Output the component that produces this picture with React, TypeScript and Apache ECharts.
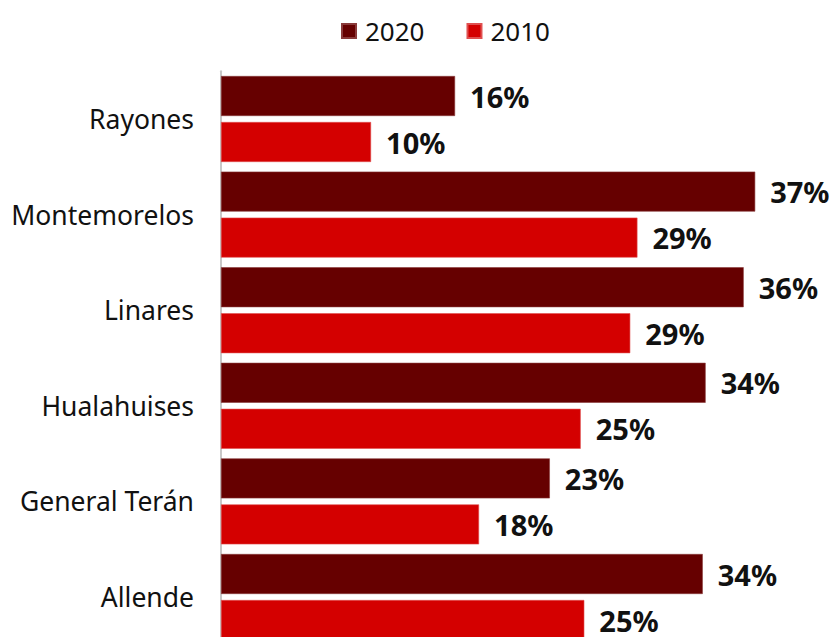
import React, { useEffect, useRef } from "react";
import * as echarts from "echarts";

const categories = ["Rayones", "Montemorelos", "Linares", "Hualahuises", "General Terán", "Allende"];
const values2020 = [16.3, 37.2, 36.4, 33.75, 22.9, 33.55];
const values2010 = [10.45, 29.0, 28.5, 25.05, 17.97, 25.3];
const seriesNames = ["2020", "2010"];

const FONT = "'Noto Sans', 'Open Sans', sans-serif";

export default function App() {
  const ref = useRef<HTMLDivElement>(null);
  useEffect(() => {
    if (!ref.current) return;
    const chart = echarts.init(ref.current, null, { renderer: "svg" });
    const label = {
      show: true,
      position: "right",
      distance: 15,
      formatter: (p: any) => Math.round(p.value) + "%",
      fontFamily: FONT,
      fontWeight: "bold",
      fontSize: 29,
      color: "#111",
    };
    chart.setOption({
      animation: false,
      legend: {
        left: 336,
        top: 13,
        itemWidth: 14,
        itemHeight: 14,
        itemGap: 42,
        icon: "rect",
        textStyle: { fontFamily: FONT, fontSize: 26, color: "#111", padding: [0, 0, 0, 4] },
        data: seriesNames,
      },
      grid: { left: 221, right: 37.6, top: 71.2, bottom: 55.2, containLabel: false },
      xAxis: {
        type: "value",
        min: 0,
        max: 40,
        show: false,
      },
      yAxis: {
        type: "category",
        inverse: true,
        data: categories,
        axisLine: { show: true, lineStyle: { color: "#c8c8c8", width: 2 } },
        axisTick: { show: false },
        axisLabel: { fontFamily: FONT, fontSize: 26.5, color: "#111", margin: 27 },
      },
      series: [
        {
          name: seriesNames[0],
          type: "bar",
          data: values2020,
          barWidth: 40,
          barGap: "15%",
          itemStyle: { color: "#660000", borderColor: "#8a3a3a", borderWidth: 0.6 },
          label,
        },
        {
          name: seriesNames[1],
          type: "bar",
          data: values2010,
          barWidth: 40,
          barGap: "15%",
          itemStyle: { color: "#d40000", borderColor: "#e05050", borderWidth: 0.6 },
          label,
        },
      ],
    });
    return () => chart.dispose();
  }, []);
  return (
    <div
      ref={ref}
      style={{ position: "absolute", left: 0, top: 0, width: 833, height: 700, background: "#fff" }}
    />
  );
}
